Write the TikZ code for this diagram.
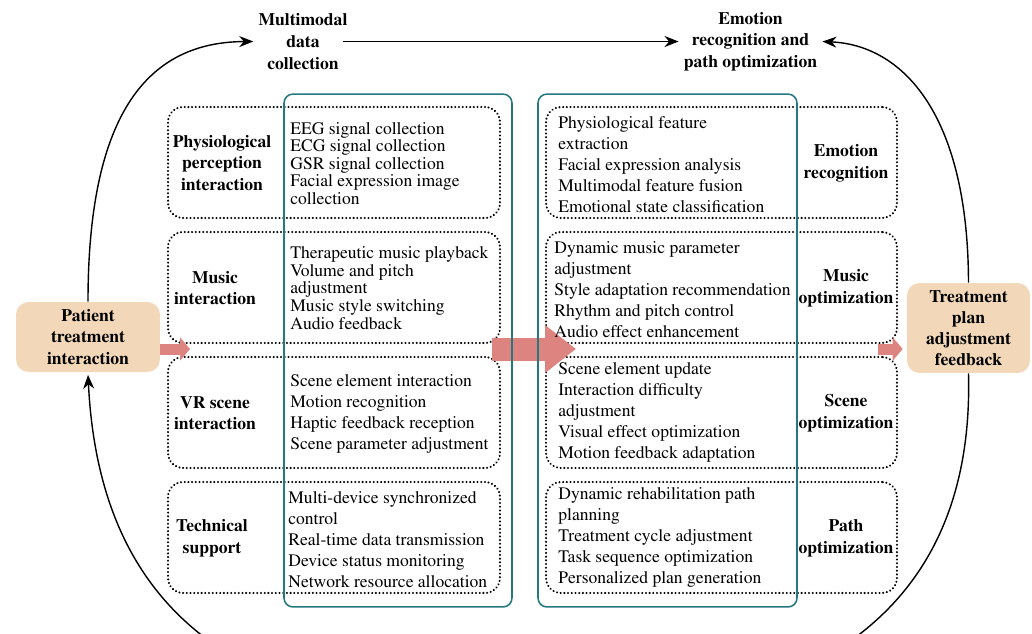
\documentclass[tikz,border=0pt]{standalone}
\usepackage[T1]{fontenc}
\usepackage{mathptmx}
\usetikzlibrary{arrows.meta}
\definecolor{patientback}{RGB}{242,216,185}
\definecolor{flowpink}{RGB}{222,132,128}
\definecolor{frameteal}{RGB}{38,120,128}

\tikzset{
  dotbox/.style={draw, line width=1.3pt, dash pattern=on 0.01pt off 2.1pt, line cap=round,
    rounded corners=0.3cm, minimum height=2.22cm, minimum width=#1, inner sep=0pt},
  tealbox/.style={draw=frameteal, line width=0.9pt, rounded corners=0.18cm,
    minimum height=10.26cm, minimum width=#1, inner sep=0pt},
  endbox/.style={fill=patientback, rounded corners=0.25cm, font=\fontsize{10}{12}\selectfont\bfseries,
    align=center, inner sep=0pt},
  title/.style={font=\fontsize{10}{12.3}\selectfont\bfseries, align=center, inner sep=0.1cm},
  label/.style={font=\fontsize{10}{12.3}\selectfont\bfseries, align=center, inner sep=0pt},
  items/.style={font=\fontsize{10}{12}\selectfont, align=left, anchor=west, inner sep=0pt},
  tightitems/.style={font=\fontsize{10}{10}\selectfont, align=left, anchor=west, inner sep=0pt},
  flow/.style={draw=flowpink, line width=0.22cm, -{Triangle[length=0.2cm, width=0.46cm]}},
  bigflow/.style={draw=flowpink, line width=0.46cm, -{Triangle[length=0.62cm, width=0.92cm]}},
  loop/.style={line width=0.8pt, -{Stealth[length=0.28cm, width=0.22cm]}}
}

\begin{document}
\begin{tikzpicture}[x=0.02cm, y=-0.02cm]
\useasboundingbox (0,0) rectangle (1032,633);

% side boxes
\node[endbox, minimum width=2.88cm, minimum height=1.4cm] (patient) at (88,337)
  {Patient\\treatment\\interaction};
\node[endbox, minimum width=2.46cm, minimum height=1.8cm] (plan) at (968.5,328)
  {Treatment\\plan\\adjustment\\feedback};

% stage titles
\node[title] (mdc) at (303,41.5) {Multimodal\\data\\collection};
\node[title] (erp) at (750.5,41.5) {Emotion\\recognition and\\path optimization};

% dotted rows
\node[dotbox=6.64cm] (pbox1) at (334,162.5) {};
\node[dotbox=6.64cm] (pbox2) at (334,287.5) {};
\node[dotbox=6.64cm] (pbox3) at (334,412.5) {};
\node[dotbox=6.64cm] (pbox4) at (334,537.5) {};
\node[dotbox=7.02cm] (obox1) at (721.5,162.5) {};
\node[dotbox=7.02cm] (obox2) at (721.5,287.5) {};
\node[dotbox=7.02cm] (obox3) at (721.5,412.5) {};
\node[dotbox=7.02cm] (obox4) at (721.5,537.5) {};

% pink flow arrows
\coordinate (gapl) at (190,349);
\coordinate (bigtail) at (492,349);
\coordinate (bighead) at (576,349);
\coordinate (gapr) at (878,349);
\draw[flow] (patient.east |- gapl) -- (gapl);
\draw[bigflow] (bigtail) -- (bighead);
\draw[flow] (gapr) -- ([xshift=-0.08cm]plan.west |- gapr);

% teal frames
\node[tealbox=4.56cm] (coll) at (398,350.5) {};
\node[tealbox=5.18cm] (recog) at (667.5,350.5) {};

% row labels
\node[label] (physio) at (222,163) {Physiological\\perception\\interaction};
\node[label] (musici) at (215,288) {Music\\interaction};
\node[label] (vrscene) at (215,413) {VR scene\\interaction};
\node[label] (techsup) at (212,538) {Technical\\support};
\node[label] (emorec) at (846,163) {Emotion\\recognition};
\node[label] (musico) at (846,288) {Music\\optimization};
\node[label] (sceneo) at (846,413) {Scene\\optimization};
\node[label] (patho) at (846,538) {Path\\optimization};

% row contents
\node[tightitems] (physiol) at (290,163.5) {EEG signal collection\\ECG signal collection\\GSR signal collection\\Facial expression image\\collection};
\node[tightitems] (musicl) at (290,288) {Therapeutic music playback\\Volume and pitch\\adjustment\\Music style switching\\Audio feedback};
\node[items] (vrl) at (290,414) {Scene element interaction\\Motion recognition\\Haptic feedback reception\\Scene parameter adjustment};
\node[items] (techl) at (288,539.5) {Multi-device synchronized\\control\\Real-time data transmission\\Device status monitoring\\Network resource allocation};
\node[items] (emor) at (558,164.5) {Physiological feature\\extraction\\Facial expression analysis\\Multimodal feature fusion\\Emotional state classification};
\node[items] (musicr) at (554,289.5) {Dynamic music parameter\\adjustment\\Style adaptation recommendation\\Rhythm and pitch control\\Audio effect enhancement};
\node[items] (scener) at (558,412.5) {Scene element update\\Interaction difficulty\\adjustment\\Visual effect optimization\\Motion feedback adaptation};
\node[items] (pathr) at (558,537.5) {Dynamic rehabilitation path\\planning\\Treatment cycle adjustment\\Task sequence optimization\\Personalized plan generation};

% loop connectors
\draw[loop] (patient.north) .. controls (88,110) and (150,42) .. (mdc.west);
\draw[loop] ([xshift=-0.2cm]mdc.east) -- (erp.west);
\draw[loop] (plan.north) .. controls (968,110) and (900,45) .. (erp.east);
\draw[loop] (plan.south) .. controls (975,620) and (800,720) .. (530,720)
  .. controls (250,720) and (100,620) .. ([yshift=-0.05cm]patient.south);
\end{tikzpicture}
\end{document}
